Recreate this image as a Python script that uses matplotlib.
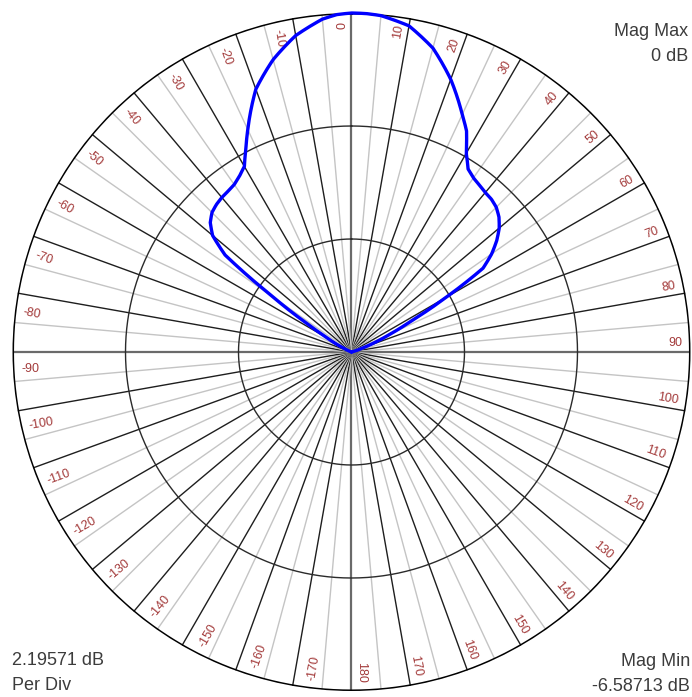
import numpy as np
import matplotlib
matplotlib.use("Agg")
import matplotlib.pyplot as plt
from matplotlib.path import Path
from matplotlib.patches import PathPatch

# Radiation pattern: magnitude (dB) versus azimuth (degrees, clockwise from top)
angle_deg = [-70, -65, -60, -57.5, -55, -52.5, -50, -47.5, -45, -42.5, -40,
             -37.5, -35, -32.5, -30, -27.5, -25, -20, -15, -10, -5, -2.5, 0,
             2.5, 5, 10, 15, 20, 25, 27.5, 30, 32.5, 35, 37.5, 40, 42.5, 45,
             47.5, 50, 52.5, 55, 57.5, 60, 62.5, 65, 67.5, 70, 75]
mag_db = [-6.587, -6.455, -6.060, -5.599, -4.743, -3.491, -3.063, -2.865,
          -2.753, -2.701, -2.668, -2.648, -2.615, -2.536, -2.424, -2.141,
          -1.818, -1.153, -0.705, -0.343, -0.095, -0.025, 0.0, -0.005,
          -0.026, -0.152, -0.474, -0.949, -1.495, -1.746, -2.128, -2.371,
          -2.457, -2.503, -2.543, -2.562, -2.609, -2.701, -2.839, -3.030,
          -3.261, -3.557, -4.479, -5.270, -5.731, -6.060, -6.324, -6.587]

mag_max = 0.0
mag_min = -6.58713
per_div = 2.19571
tick_angles = list(range(-170, 190, 10))
tick_labels = [str(a) for a in tick_angles]

W, H = 692, 697
fig = plt.figure(figsize=(W / 100, H / 100), dpi=100)
cx, cy, R = 351.5, 345.0, 339.0  # centre measured from the bottom-left, in px
ax = fig.add_axes([(cx - R) / W, (cy - R) / H, 2 * R / W, 2 * R / H],
                  projection="polar")
ax.set_theta_zero_location("N")
ax.set_theta_direction(-1)
ax.set_ylim(mag_min, mag_max)
ax.grid(False)
ax.set_xticks([])
ax.set_yticks([])
ax.spines["polar"].set_visible(False)
ax.patch.set_alpha(0)

# Spokes every 5 degrees
for a in range(0, 360, 5):
    th = np.deg2rad(a)
    if a % 90 == 0:
        col, lw = "#6a6a6a", 1.6
    elif a % 10 == 0:
        col, lw = "#1e1e1e", 1.0
    else:
        col, lw = "#c4c4c4", 1.0
    ax.plot([th, th], [mag_min, mag_max], color=col, lw=lw, zorder=1,
            solid_capstyle="butt")

# Magnitude circles
full = np.linspace(0, 2 * np.pi, 721)
for k in (1, 2):
    ax.plot(full, np.full_like(full, mag_min + k * per_div), color="#2a2a2a",
            lw=1.0, zorder=2)
ax.plot(full, np.full_like(full, mag_max), color="black", lw=2.2, zorder=3)

# Angle labels
span = mag_max - mag_min
for a, lab in zip(tick_angles, tick_labels):
    if a >= 0:
        pos = a - 1.6
        rot = 90 - a
        ha = "right"
    else:
        pos = a - 3.0
        rot = -90 - a
        ha = "left"
    ax.text(np.deg2rad(pos), mag_min + 0.975 * span, lab, rotation=rot,
            rotation_mode="anchor", ha=ha, va="center", fontsize=9,
            family="Liberation Sans", color="#a33a3a", zorder=4)

# Pattern trace; each segment follows the polar grid instead of a chord
trace_xy = np.column_stack([np.deg2rad(angle_deg),
                            np.clip(mag_db, mag_min, mag_max)])
trace_path = Path(trace_xy, _interpolation_steps=40)
ax.add_patch(PathPatch(trace_path, fill=False, edgecolor="#0000ff", lw=2.4,
                       joinstyle="round", capstyle="round",
                       transform=ax.transData, zorder=5, clip_on=False))

txt = dict(fontsize=13, family="Liberation Sans", color="#3c3c3c")
fig.text(688 / W, 1 - 36 / H, "Mag Max", ha="right", va="baseline", **txt)
fig.text(688 / W, 1 - 61 / H, "0 dB", ha="right", va="baseline", **txt)
fig.text(12 / W, 1 - 665 / H, f"{per_div} dB", ha="left", va="baseline", **txt)
fig.text(12 / W, 1 - 690 / H, "Per Div", ha="left", va="baseline", **txt)
fig.text(690 / W, 1 - 666 / H, "Mag Min", ha="right", va="baseline", **txt)
fig.text(690 / W, 1 - 691 / H, f"{mag_min} dB", ha="right", va="baseline", **txt)

fig.savefig("out.png", dpi=100)
